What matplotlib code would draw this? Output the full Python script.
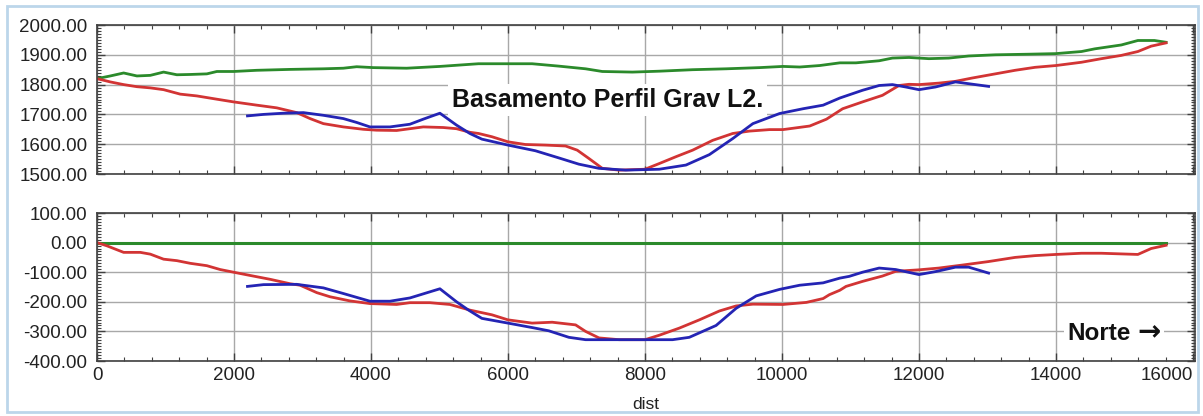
import matplotlib
matplotlib.use("Agg")
import matplotlib.pyplot as plt
from matplotlib.ticker import MultipleLocator, FormatStrFormatter
from matplotlib.patches import Rectangle

plt.rcParams['font.family'] = ['Liberation Sans', 'DejaVu Sans']

# ---- data: top panel (elevations) ----
topo_x = [0, 194, 389, 583, 778, 972, 1166, 1361, 1604, 1750, 1993, 2333, 2819, 3305, 3596, 3791,
          4034, 4520, 5006, 5443, 5570, 6000, 6352, 6742, 7133, 7377, 7817, 8208, 8696, 9184, 9673,
          10015, 10259, 10552, 10845, 11080, 11419, 11613, 11855, 12145, 12436, 12726, 13114, 13598,
          14000, 14373, 14567, 14954, 15196, 15438, 15608]
topo_y = [1820, 1829, 1839, 1829, 1831, 1842, 1833, 1834, 1836, 1844, 1844, 1848, 1851, 1853, 1855, 1860,
          1857, 1855, 1861, 1868, 1870, 1870, 1870, 1862, 1853, 1844, 1842, 1845, 1850, 1853, 1857,
          1861, 1859, 1864, 1873, 1873, 1880, 1889, 1891, 1887, 1889, 1896, 1900, 1902,
          1904, 1911, 1920, 1933, 1948, 1948, 1942]

model_x = [0, 194, 389, 583, 778, 972, 1215, 1458, 1750, 1993, 2333, 2624, 2916, 3110, 3305, 3596,
           3888, 4082, 4374, 4568, 4763, 5054, 5249, 5443, 5570, 5766, 6000, 6254, 6547, 6840, 7011,
           7182, 7377, 7621, 8000, 8208, 8452, 8696, 8989, 9282, 9526, 9819, 10015, 10405, 10650,
           10886, 11177, 11467, 11709, 11855, 12000, 12291, 12533, 12775, 13114, 13404, 13695, 14000,
           14373, 14664, 14954, 15196, 15390, 15608]
model_y = [1820, 1809, 1800, 1793, 1789, 1783, 1768, 1762, 1751, 1742, 1731, 1722, 1706, 1686, 1669, 1658,
           1650, 1647, 1646, 1652, 1658, 1656, 1652, 1640, 1636, 1625, 1608, 1599, 1597, 1594, 1580,
           1552, 1519, 1513, 1516, 1535, 1558, 1580, 1613, 1636, 1644, 1649, 1649, 1661, 1684,
           1719, 1742, 1764, 1797, 1801, 1800, 1805, 1811, 1822, 1836, 1848, 1858, 1864,
           1875, 1887, 1898, 1911, 1929, 1940]

grav_x = [2197, 2430, 2722, 3013, 3305, 3596, 3791, 3985, 4277, 4568, 4763, 5006, 5249, 5443, 5619,
          6000, 6400, 6742, 7035, 7328, 7719, 8208, 8598, 8940, 9282, 9575, 9966, 10308, 10601, 10845,
          11177, 11419, 11613, 11806, 12000, 12242, 12533, 12726, 13017]
grav_y = [1695, 1700, 1704, 1706, 1697, 1686, 1673, 1658, 1658, 1667, 1684, 1704, 1664, 1636, 1617,
          1597, 1578, 1554, 1533, 1519, 1513, 1516, 1530, 1565, 1619, 1669, 1703, 1719, 1731, 1755,
          1781, 1797, 1800, 1792, 1783, 1792, 1809, 1803, 1794]

# ---- data: bottom panel (depth relative to topography) ----
ref_x = [0, 15608]
ref_y = [0, 0]

model_dx = [0, 146, 389, 632, 778, 972, 1166, 1361, 1604, 1798, 1993, 2236, 2527, 2819, 2965, 3208,
            3402, 3693, 3985, 4374, 4568, 4860, 5152, 5443, 5766, 6000, 6352, 6645, 6987, 7133, 7328,
            7621, 8000, 8208, 8500, 8794, 9087, 9331, 9575, 10015, 10357, 10601, 10692, 10845, 10935,
            11177, 11467, 11661, 12000, 12291, 12630, 13017, 13404, 13695, 14000, 14373, 14664,
            15196, 15390, 15608]
model_dy = [0, -11, -33, -33, -39, -56, -61, -70, -78, -91, -100, -111, -124, -139, -144, -169,
            -183, -197, -206, -209, -203, -203, -209, -228, -244, -261, -272, -269, -278, -300, -322,
            -328, -328, -313, -289, -261, -231, -214, -208, -209, -202, -189, -176, -161, -148,
            -131, -113, -97, -92, -86, -76, -64, -50, -44, -40, -36, -36,
            -40, -20, -9]

grav_dx = [2197, 2430, 2916, 3305, 3596, 3985, 4277, 4568, 5006, 5249, 5424, 5619, 6000, 6352, 6596,
           6889, 7133, 7524, 8000, 8403, 8647, 9038, 9331, 9624, 9966, 10259, 10601, 10845, 10983,
           11177, 11419, 11661, 12000, 12242, 12533, 12726, 13017]
grav_dy = [-148, -142, -141, -153, -172, -198, -198, -187, -156, -200, -228, -256, -272, -287, -298,
           -320, -328, -328, -328, -328, -320, -280, -222, -180, -158, -144, -136, -120, -114,
           -100, -86, -91, -108, -98, -83, -83, -103]

x_ticks = [0, 2000, 4000, 6000, 8000, 10000, 12000, 14000, 16000]
x_labels = ["0", "2000", "4000", "6000", "8000", "10000", "12000", "14000", "16000"]

GREEN = '#2b8a2b'
RED = '#d23434'
BLUE = '#2424b4'
GRID = '#a8a8a8'
TXT = '#222222'

W, H = 1203, 416
fig = plt.figure(figsize=(W / 100, H / 100), dpi=100)
fig.patch.set_facecolor('white')

# light blue frame around the chart
fig.patches.append(Rectangle((7 / W, 4 / H), (1198 - 7) / W, (410 - 4) / H,
                             transform=fig.transFigure, fill=False,
                             edgecolor='#bcd6ea', linewidth=2))

ax1 = fig.add_axes([97 / W, 1 - 174 / H, 1098 / W, 149 / H])
ax2 = fig.add_axes([97 / W, 1 - 361 / H, 1098 / W, 148 / H])


def style(ax, ylo, yhi, show_x):
    ax.set_xlim(0, 16030)
    ax.set_ylim(ylo, yhi)
    ax.set_yticks(range(ylo, yhi + 1, 100))
    ax.yaxis.set_major_formatter(FormatStrFormatter('%.2f'))
    ax.yaxis.set_minor_locator(MultipleLocator(10))
    ax.set_xticks(x_ticks)
    ax.xaxis.set_minor_locator(MultipleLocator(400))
    ax.grid(True, which='major', color=GRID, linewidth=1)
    ax.set_axisbelow(True)
    ax.tick_params(which='both', direction='in', top=True, right=True,
                   color='#404040', labelright=False, labeltop=False)
    ax.tick_params(which='major', length=6, width=1)
    ax.tick_params(which='minor', length=3, width=0.8)
    ax.tick_params(axis='y', labelsize=13.5, labelcolor=TXT, pad=7)
    ax.tick_params(axis='x', labelsize=13.5, labelcolor=TXT, pad=4)
    for s in ax.spines.values():
        s.set_color('#404040')
        s.set_linewidth(1.2)
    if show_x:
        ax.set_xticklabels(x_labels)
        ax.get_xticklabels()[-1].set_ha('right')
    else:
        ax.set_xticklabels([])


style(ax1, 1500, 2000, False)
style(ax2, -400, 100, True)

ax1.plot(topo_x, topo_y, color=GREEN, lw=2)
ax1.plot(model_x, model_y, color=RED, lw=2)
ax1.plot(grav_x, grav_y, color=BLUE, lw=2)

ax2.plot(ref_x, ref_y, color=GREEN, lw=2.2)
ax2.plot(model_dx, model_dy, color=RED, lw=2)
ax2.plot(grav_dx, grav_dy, color=BLUE, lw=2)

ax1.text(0.465, 0.45, "Basamento Perfil Grav L2.", transform=ax1.transAxes,
         ha='center', va='baseline', fontsize=18, fontweight='bold', color='#111111',
         bbox=dict(facecolor='white', edgecolor='none', pad=3), zorder=1.5)

ax2.text(0.884, 0.142, "Norte", transform=ax2.transAxes,
         ha='left', va='baseline', fontsize=17.5, fontweight='bold', color='#111111',
         bbox=dict(facecolor='white', edgecolor='none', pad=3), zorder=1.5)
ax2.text(0.948, 0.142, "\u2192", transform=ax2.transAxes,
         ha='left', va='baseline', fontsize=20, fontweight='bold', color='#111111',
         family=['DejaVu Sans'],
         bbox=dict(facecolor='white', edgecolor='none', pad=2), zorder=1.5)

ax2.set_xlabel("dist", fontsize=12.5, color=TXT, labelpad=10)

fig.savefig("out.png", dpi=100)
